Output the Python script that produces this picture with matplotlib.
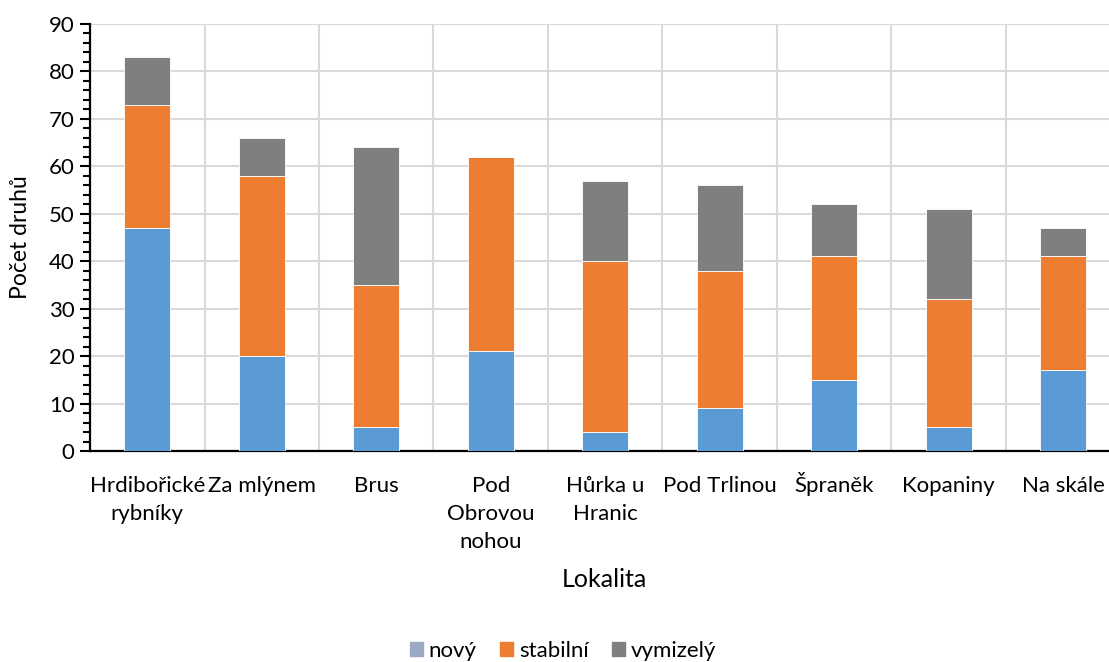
import numpy as np
import matplotlib.pyplot as plt
from matplotlib.patches import Patch
from matplotlib.ticker import MultipleLocator, FixedLocator

lokality = ["Hrdibořické\nrybníky", "Za mlýnem", "Brus", "Pod\nObrovou\nnohou",
            "Hůrka u\nHranic", "Pod Trlinou", "Špraněk", "Kopaniny", "Na skále"]
novy = [47, 20, 5, 21, 4, 9, 15, 5, 17]
stabilni = [26, 38, 30, 41, 36, 29, 26, 27, 24]
vymizely = [10, 8, 29, 0, 17, 18, 11, 19, 6]

plt.rcParams['font.family'] = ['Lato', 'DejaVu Sans']
plt.rcParams['font.size'] = 16

fig = plt.figure(figsize=(11.09, 6.62), dpi=100)
ax = fig.add_axes([90/1109, 1-451/662, 1030.5/1109, 427/662])
H = 427.0

x = np.arange(len(lokality))
novy = np.array(novy)
stabilni = np.array(stabilni)
vymizely = np.array(vymizely)
w = 0.4
ax.bar(x, novy, w, color='#5B9BD5', edgecolor='white', linewidth=0.6, zorder=3)
ax.bar(x, stabilni, w, bottom=novy, color='#ED7D31', edgecolor='white', linewidth=0.6, zorder=3)
ax.bar(x, vymizely, w, bottom=novy + stabilni, color='#7F7F7F', edgecolor='white', linewidth=0.6, zorder=3)

ax.set_xlim(-0.5, len(lokality) - 0.5)
ax.set_ylim(0, 90)
ax.yaxis.set_major_locator(MultipleLocator(10))
ax.yaxis.set_minor_locator(MultipleLocator(2))
ax.xaxis.set_minor_locator(FixedLocator(np.arange(0.5, len(lokality) - 1, 1)))
ax.set_xticks(x)
ax.set_xticklabels([])

# category labels, one text per line so every baseline is fixed
for xi, lab in zip(x, lokality):
    for i, line in enumerate(lab.split('\n')):
        ax.text(xi, -(492 + 28 * i - 451) / H, line, transform=ax.get_xaxis_transform(),
                ha='center', va='baseline', fontsize=16)

ax.grid(axis='y', which='major', color='#D9D9D9', linewidth=1.5, zorder=0)
ax.grid(axis='x', which='minor', color='#D9D9D9', linewidth=1.5, zorder=0)
ax.tick_params(axis='x', which='both', length=0)
ax.tick_params(axis='y', which='major', length=7, width=1.5, direction='out', pad=4,
               labelsize=16)
ax.tick_params(axis='y', which='minor', length=5, width=1.5, direction='out')

for s in ['top', 'right']:
    ax.spines[s].set_visible(False)
for s in ['left', 'bottom']:
    ax.spines[s].set_linewidth(1.6)
    ax.spines[s].set_color('black')

ax.set_ylabel('Počet druhů', fontsize=16.5)
ax.yaxis.set_label_coords(-(90 - 31) / 1030.5, (451 - 237) / H)
ax.set_xlabel('Lokalita', fontsize=18)
ax.xaxis.set_label_coords((604 - 90) / 1030.5, -(568 - 451) / H)

handles = [Patch(color='#9AAAC5', label='nový'),
           Patch(color='#ED7D31', label='stabilní'),
           Patch(color='#7F7F7F', label='vymizelý')]
fig.legend(handles=handles, loc='center', bbox_to_anchor=(563/1109, 1-651/662),
           ncol=3, frameon=False, handlelength=0.6, handleheight=0.6,
           handletextpad=0.25, columnspacing=1.05, fontsize=16)

fig.savefig('out.png', dpi=100)
